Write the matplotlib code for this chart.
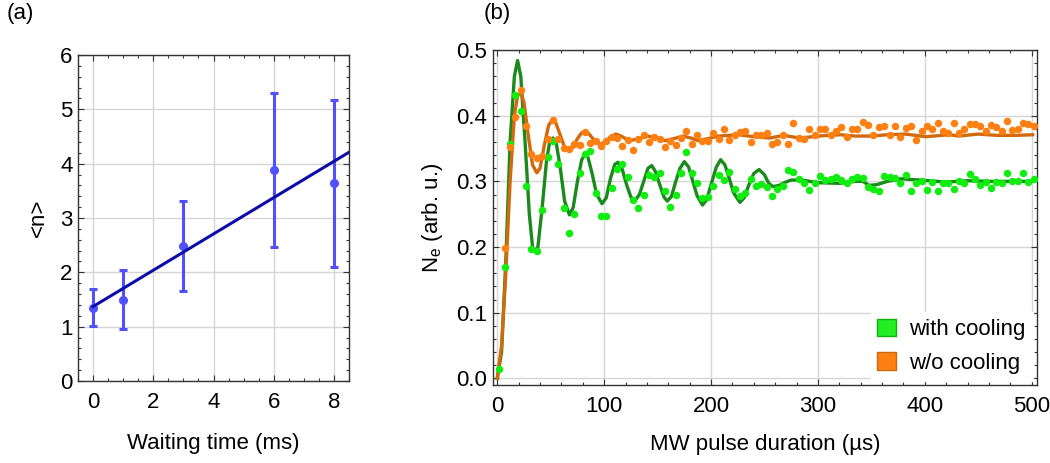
import numpy as np
import matplotlib
matplotlib.use("Agg")
import matplotlib.pyplot as plt
from matplotlib.ticker import MultipleLocator, FormatStrFormatter
from matplotlib.patches import Patch

plt.rcParams['font.family'] = ['Liberation Sans', 'DejaVu Sans']
plt.rcParams['font.size'] = 16

# (a) mean phonon number vs waiting time
wait_time = [0, 1, 3, 6, 8]
n_mean = [1.35, 1.50, 2.48, 3.88, 3.64]
n_err = [0.34, 0.55, 0.83, 1.42, 1.54]
fit_time = [0, 8.5]
fit_n = [1.37, 4.21]

# (b) excited population vs MW pulse duration
pulse_green = np.arange(2, 503, 5)
ne_green = [0.015, 0.170, 0.357, 0.431, 0.407, 0.293, 0.197, 0.194, 0.257, 0.337,
            0.362, 0.327, 0.260, 0.222, 0.250, 0.312, 0.341, 0.347, 0.283, 0.248,
            0.247, 0.290, 0.319, 0.326, 0.306, 0.271, 0.259, 0.280, 0.309, 0.306,
            0.312, 0.285, 0.261, 0.280, 0.312, 0.345, 0.312, 0.298, 0.275, 0.276,
            0.293, 0.309, 0.302, 0.314, 0.288, 0.277, 0.282, 0.304, 0.293,
            0.296, 0.291, 0.278, 0.288, 0.293, 0.318, 0.314, 0.304, 0.298, 0.287,
            0.298, 0.308, 0.302, 0.303, 0.307, 0.302, 0.297, 0.303, 0.306, 0.305,
            0.291, 0.288, 0.286, 0.308, 0.307,
            0.305, 0.297, 0.309, 0.286, 0.298, 0.300, 0.287, 0.299, 0.285, 0.297,
            0.298, 0.289, 0.300, 0.297, 0.311, 0.303, 0.294, 0.299, 0.290, 0.299,
            0.297, 0.312, 0.301, 0.301, 0.312, 0.299, 0.303]
pulse_orange = np.arange(7, 503, 5)
ne_orange = [0.198, 0.352, 0.398, 0.439, 0.385, 0.341, 0.336, 0.338, 0.364, 0.394,
             0.365, 0.351, 0.349, 0.357, 0.356, 0.375, 0.358, 0.362, 0.354, 0.361,
             0.368, 0.366, 0.354, 0.363, 0.348, 0.364, 0.371, 0.360, 0.367, 0.364,
             0.352, 0.362, 0.356, 0.366, 0.376, 0.357, 0.371, 0.362, 0.362, 0.373,
             0.364, 0.379, 0.363, 0.371, 0.375, 0.376, 0.360, 0.371,
             0.370, 0.374, 0.357, 0.360, 0.370, 0.357, 0.389, 0.366, 0.365, 0.380,
             0.371, 0.379, 0.379, 0.371, 0.376, 0.383, 0.367, 0.380, 0.379, 0.390,
             0.386, 0.371, 0.383, 0.385, 0.371,
             0.384, 0.367, 0.381, 0.384, 0.363, 0.376, 0.384, 0.379, 0.389, 0.377,
             0.374, 0.389, 0.374, 0.380, 0.387, 0.387, 0.384, 0.377, 0.386, 0.383,
             0.377, 0.392, 0.378, 0.380, 0.389, 0.388, 0.385]

fit_green_t = [0, 4, 8, 12, 16, 19, 22, 26, 30, 33, 35.5, 38, 42, 46, 49, 52, 55, 59, 63,
               67.5, 71, 75, 79, 82, 85, 89, 93, 98, 102, 106, 110, 113, 117, 121, 125,
               129, 133, 137, 141, 144.5, 148, 152, 156, 159, 163, 167, 171, 175, 179,
               183, 187, 192, 196, 200, 205, 209, 213, 217, 221, 227, 231, 235, 240,
               245, 250, 254, 258, 264, 270, 275, 285, 300, 320, 335, 342, 348, 355,
               365, 378, 395, 420, 440, 460, 480, 501]
fit_green = [0.0, 0.04, 0.18, 0.36, 0.46, 0.484, 0.46, 0.36, 0.25, 0.20, 0.193, 0.20,
             0.26, 0.33, 0.36, 0.366, 0.36, 0.32, 0.27, 0.249, 0.26, 0.30, 0.333, 0.341,
             0.336, 0.31, 0.28, 0.266, 0.275, 0.305, 0.326, 0.329, 0.318, 0.295, 0.276,
             0.271, 0.28, 0.30, 0.32, 0.324, 0.315, 0.295, 0.276, 0.270, 0.277, 0.30,
             0.32, 0.330, 0.322, 0.30, 0.278, 0.264, 0.272, 0.295, 0.322, 0.333, 0.325,
             0.305, 0.283, 0.268, 0.275, 0.293, 0.312, 0.318, 0.31, 0.297, 0.292, 0.294,
             0.299, 0.302, 0.302, 0.298, 0.297, 0.300, 0.300, 0.294, 0.295, 0.300,
             0.304, 0.302, 0.299, 0.301, 0.300, 0.300, 0.300]
fit_orange_t = [0, 4, 8, 12, 16, 19, 22, 25, 29, 33, 37, 40, 44, 48, 51.5, 55, 59, 63,
                67.5, 71, 75, 79, 82, 86, 91, 96, 101, 106, 111, 117, 123, 130, 141,
                148, 157, 165, 174, 181, 188, 197, 207, 216, 226, 240, 255, 268, 283,
                295, 308, 321, 335, 350, 365, 382, 401, 423, 432, 450, 468, 485, 501]
fit_orange = [0.0, 0.05, 0.16, 0.30, 0.40, 0.43, 0.435, 0.42, 0.37, 0.325, 0.313, 0.32,
              0.355, 0.385, 0.394, 0.388, 0.37, 0.352, 0.347, 0.352, 0.365, 0.374, 0.376,
              0.372, 0.362, 0.356, 0.36, 0.368, 0.372, 0.368, 0.362, 0.364, 0.369, 0.366,
              0.362, 0.365, 0.369, 0.366, 0.362, 0.365, 0.369, 0.370, 0.371, 0.368, 0.366,
              0.370, 0.366, 0.368, 0.370, 0.371, 0.369, 0.369, 0.371, 0.372, 0.368, 0.371,
              0.369, 0.372, 0.370, 0.370, 0.371]


def frame(ax):
    ax.tick_params(which='both', direction='in', top=True, right=True,
                   color='#333333', labelcolor='black')
    ax.tick_params(which='major', length=4, width=0.8, pad=8)
    ax.tick_params(axis='y', which='major', pad=4)
    ax.tick_params(which='minor', length=2.2, width=0.8)
    ax.grid(True, which='major', color='#d6d6d6', lw=1)
    ax.set_axisbelow(True)
    for s in ax.spines.values():
        s.set_color('#333333')
        s.set_linewidth(1)


fig = plt.figure(figsize=(10.5, 4.63), dpi=100)

ax1 = fig.add_axes([78 / 1050, 1 - 381 / 463, 271 / 1050, 326 / 463])
ax1.errorbar(wait_time, n_mean, yerr=n_err, fmt='o', color='#5050ff', ms=5.5,
             elinewidth=2.2, capsize=3, capthick=2.2, zorder=2)
ax1.plot(fit_time, fit_n, color='#0c0ca8', lw=2.2, zorder=3)
ax1.set_xlim(-0.5, 8.5)
ax1.set_ylim(0, 6)
ax1.xaxis.set_major_locator(MultipleLocator(2))
ax1.xaxis.set_minor_locator(MultipleLocator(0.5))
ax1.yaxis.set_major_locator(MultipleLocator(1))
ax1.yaxis.set_minor_locator(MultipleLocator(0.2))
frame(ax1)
ax1.set_xlabel('Waiting time (ms)', labelpad=14)
ax1.set_ylabel('<n>', labelpad=8)

ax2 = fig.add_axes([493 / 1050, 1 - 385 / 463, 544 / 1050, 335 / 463])
ax2.plot(fit_green_t, fit_green, color='#1a8a1a', lw=2.4, zorder=2)
ax2.plot(fit_orange_t, fit_orange, color='#d2690c', lw=2.4, zorder=2)
ax2.plot(pulse_green, ne_green, 'o', color='#10ee10', ms=5.4, mew=0, zorder=3)
ax2.plot(pulse_orange, ne_orange, 'o', color='#ff8012', ms=5.4, mew=0, zorder=4)
ax2.set_xlim(-4, 505)
ax2.set_ylim(-0.01, 0.5)
ax2.xaxis.set_major_locator(MultipleLocator(100))
ax2.xaxis.set_minor_locator(MultipleLocator(20))
ax2.yaxis.set_major_locator(MultipleLocator(0.1))
ax2.yaxis.set_minor_locator(MultipleLocator(0.02))
ax2.yaxis.set_major_formatter(FormatStrFormatter('%.1f'))
frame(ax2)
ax2.set_xlabel('MW pulse duration (µs)', labelpad=12)
ax2.set_ylabel(r'N$_\mathregular{e}$ (arb. u.)', labelpad=8)

handles = [Patch(facecolor='#22ee22', edgecolor='#10b010', label='with cooling'),
           Patch(facecolor='#ff8012', edgecolor='#c86a10', label='w/o cooling')]
leg = ax2.legend(handles=handles, loc='lower right', frameon=True, fancybox=False,
                 handlelength=0.85, handleheight=0.85, handletextpad=0.6,
                 labelspacing=0.55, borderaxespad=0.2, borderpad=0.3)
leg.get_frame().set_edgecolor('white')
leg.get_frame().set_facecolor('white')
leg.get_frame().set_alpha(1)

fig.text(20 / 1050, 1 - 14 / 463, '(a)', ha='center', va='center')
fig.text(497 / 1050, 1 - 14 / 463, '(b)', ha='center', va='center')

fig.savefig('out.png', dpi=100)
